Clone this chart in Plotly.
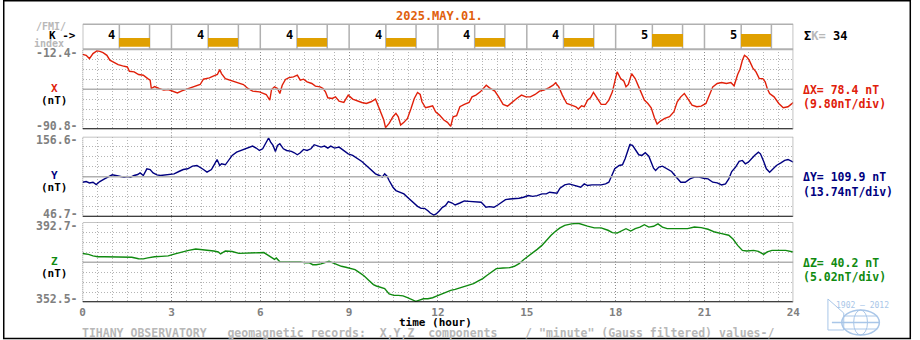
import plotly.graph_objects as go

W, H = 920, 340

# ---- data -------------------------------------------------------------
hour_ticks = list(range(0, 25, 3))
k_index = [4, 4, 4, 4, 4, 4, 5, 5]

x_hours = [0.00, 0.12, 0.23, 0.35, 0.48, 0.58, 0.69, 0.82, 0.92, 1.05,
           1.20, 1.35, 1.51, 1.58, 1.74, 1.89, 2.05, 2.20, 2.28, 2.32,
           2.43, 2.58, 2.74, 2.89, 3.05, 3.20, 3.35, 3.51, 3.66, 3.82,
           3.97, 4.08, 4.28, 4.43, 4.55, 4.63, 4.69, 4.82, 4.97, 5.20,
           5.43, 5.58, 5.74, 5.97, 6.12, 6.20, 6.32, 6.38, 6.48, 6.58,
           6.66, 6.74, 6.85, 6.97, 7.12, 7.25, 7.35, 7.46, 7.58, 7.74,
           7.86, 8.02, 8.12, 8.20, 8.28, 8.43, 8.54, 8.66, 8.82, 8.97,
           9.12, 9.28, 9.43, 9.58, 9.74, 9.89, 9.97, 10.08, 10.17, 10.23,
           10.35, 10.48, 10.58, 10.66, 10.74, 10.85, 10.97, 11.09, 11.20, 11.31,
           11.40, 11.46, 11.58, 11.71, 11.82, 11.92, 12.05, 12.20, 12.32, 12.43,
           12.51, 12.63, 12.74, 12.89, 13.05, 13.15, 13.28, 13.43, 13.63, 13.74,
           13.92, 14.05, 14.20, 14.35, 14.51, 14.66, 14.82, 14.97, 15.12, 15.28,
           15.43, 15.58, 15.74, 15.89, 15.97, 16.08, 16.20, 16.35, 16.51, 16.66,
           16.74, 16.85, 16.94, 17.05, 17.15, 17.25, 17.35, 17.51, 17.66, 17.77,
           17.89, 17.97, 18.05, 18.17, 18.28, 18.35, 18.43, 18.54, 18.66, 18.78,
           18.89, 18.97, 19.09, 19.20, 19.31, 19.40, 19.51, 19.66, 19.82, 19.97,
           20.08, 20.20, 20.32, 20.43, 20.58, 20.74, 20.89, 21.05, 21.15, 21.28,
           21.43, 21.58, 21.74, 21.89, 22.00, 22.05, 22.12, 22.20, 22.28, 22.35,
           22.43, 22.51, 22.63, 22.74, 22.85, 22.97, 23.05, 23.12, 23.20, 23.35,
           23.51, 23.66, 23.82, 23.92, 24.00]
x_nt = [-17.3, -18.3, -21.5, -16.6, -14.0, -14.4, -15.7, -18.3, -23.1, -25.4,
        -27.4, -28.7, -29.7, -33.9, -34.5, -37.1, -37.8, -41.1, -42.7, -50.8,
        -48.9, -50.8, -52.4, -51.8, -53.4, -55.1, -53.1, -51.5, -49.8, -48.9,
        -46.9, -41.7, -40.4, -38.4, -37.1, -32.3, -36.2, -41.1, -42.7, -45.0,
        -46.9, -50.8, -53.4, -54.1, -55.7, -56.7, -62.2, -51.8, -49.2, -50.8,
        -55.7, -47.6, -42.0, -40.1, -39.4, -37.8, -42.7, -41.7, -44.3, -45.9,
        -48.5, -49.2, -50.8, -54.1, -59.9, -60.6, -59.0, -63.2, -64.5, -57.3,
        -61.2, -63.2, -64.5, -65.5, -63.8, -61.2, -67.1, -73.6, -81.7, -89.2,
        -85.0, -78.5, -75.2, -78.5, -86.6, -84.0, -80.1, -70.4, -60.6, -54.7,
        -56.7, -63.8, -69.7, -68.7, -67.8, -73.6, -76.9, -81.7, -84.0, -87.9,
        -78.5, -77.5, -68.7, -66.4, -64.5, -59.0, -57.3, -54.1, -47.6, -50.2,
        -53.4, -59.0, -66.4, -68.1, -63.8, -60.6, -57.3, -59.0, -59.0, -56.7,
        -53.4, -52.4, -50.2, -47.6, -45.3, -49.2, -57.3, -65.5, -67.1, -68.7,
        -71.0, -67.8, -68.7, -62.2, -59.9, -54.7, -59.0, -66.4, -66.4, -62.2,
        -54.1, -42.7, -34.5, -41.1, -43.7, -49.2, -46.9, -36.2, -41.1, -49.2,
        -57.3, -62.2, -65.5, -69.7, -79.5, -85.7, -82.7, -80.1, -78.5, -73.6,
        -63.8, -59.0, -55.7, -60.6, -67.1, -68.7, -68.1, -65.5, -59.0, -49.2,
        -45.9, -45.0, -45.9, -45.0, -48.2, -42.7, -37.1, -31.9, -23.1, -18.3,
        -19.9, -23.1, -30.6, -34.5, -41.1, -41.1, -44.3, -50.8, -55.7, -59.0,
        -65.5, -69.7, -68.7, -66.4, -64.5]

y_hours = [0.00, 0.12, 0.23, 0.35, 0.46, 0.58, 0.74, 0.89, 1.00, 1.12,
           1.28, 1.40, 1.51, 1.62, 1.74, 1.86, 1.94, 2.05, 2.17, 2.28,
           2.38, 2.51, 2.63, 2.78, 2.94, 3.09, 3.25, 3.40, 3.55, 3.71,
           3.86, 3.97, 4.08, 4.20, 4.35, 4.46, 4.54, 4.63, 4.69, 4.82,
           4.94, 5.05, 5.20, 5.35, 5.51, 5.62, 5.74, 5.86, 5.97, 6.08,
           6.17, 6.28, 6.35, 6.43, 6.51, 6.58, 6.66, 6.78, 6.89, 7.05,
           7.15, 7.25, 7.35, 7.46, 7.58, 7.71, 7.82, 7.92, 8.05, 8.17,
           8.28, 8.38, 8.51, 8.66, 8.78, 8.97, 9.12, 9.28, 9.43, 9.58,
           9.74, 9.89, 10.02, 10.12, 10.20, 10.28, 10.35, 10.48, 10.58, 10.74,
           10.85, 10.97, 11.09, 11.20, 11.31, 11.43, 11.55, 11.66, 11.74, 11.86,
           11.94, 12.05, 12.15, 12.25, 12.35, 12.48, 12.58, 12.74, 12.89, 13.05,
           13.20, 13.35, 13.46, 13.55, 13.62, 13.74, 13.89, 14.02, 14.17, 14.28,
           14.43, 14.58, 14.74, 14.89, 15.05, 15.20, 15.35, 15.51, 15.66, 15.77,
           15.89, 16.02, 16.12, 16.28, 16.43, 16.58, 16.74, 16.82, 16.94, 17.05,
           17.20, 17.35, 17.51, 17.66, 17.77, 17.86, 17.97, 18.12, 18.23, 18.32,
           18.40, 18.48, 18.57, 18.66, 18.78, 18.89, 19.00, 19.12, 19.20, 19.28,
           19.35, 19.46, 19.58, 19.74, 19.89, 20.05, 20.20, 20.35, 20.51, 20.66,
           20.82, 20.97, 21.12, 21.28, 21.43, 21.58, 21.71, 21.82, 21.92, 22.05,
           22.17, 22.28, 22.38, 22.48, 22.58, 22.69, 22.82, 22.89, 23.00, 23.09,
           23.20, 23.31, 23.43, 23.58, 23.71, 23.82, 23.92, 24.00]
y_nt = [94.1, 95.0, 93.1, 94.1, 90.8, 95.0, 98.7, 101.9, 104.2, 103.3,
        102.3, 101.0, 101.9, 101.0, 103.3, 104.6, 106.9, 103.3, 112.5, 111.5,
        106.9, 104.2, 103.3, 104.2, 104.6, 105.6, 108.8, 111.5, 112.5, 116.1,
        117.1, 114.8, 111.5, 107.9, 111.5, 119.4, 125.3, 117.1, 119.4, 118.0,
        124.0, 130.9, 135.4, 137.7, 140.0, 142.3, 143.7, 141.0, 137.7, 140.0,
        146.9, 154.8, 149.2, 144.6, 136.4, 144.6, 146.9, 140.0, 137.7, 136.4,
        134.5, 131.8, 134.5, 139.1, 137.7, 140.0, 145.6, 143.7, 142.3, 143.7,
        141.0, 143.7, 141.0, 142.3, 139.1, 133.1, 130.9, 127.2, 122.6, 117.1,
        111.5, 105.6, 103.3, 101.0, 105.6, 102.3, 96.4, 87.2, 82.6, 80.3,
        78.0, 73.4, 68.8, 65.5, 60.9, 58.2, 58.2, 55.0, 51.7, 49.0,
        50.4, 55.0, 59.6, 61.9, 67.4, 65.5, 62.8, 65.5, 68.3, 67.8,
        67.4, 67.8, 66.5, 62.8, 59.6, 60.5, 59.6, 62.8, 66.5, 70.1,
        71.1, 71.1, 72.0, 73.4, 75.7, 74.7, 75.7, 78.0, 78.0, 80.3,
        79.3, 78.9, 85.8, 90.4, 91.8, 90.4, 88.5, 87.2, 91.8, 89.5,
        90.4, 90.4, 90.4, 91.8, 94.1, 102.3, 112.5, 117.1, 118.0, 126.3,
        136.4, 145.6, 144.6, 139.1, 131.8, 130.9, 134.5, 129.9, 121.6, 113.4,
        110.2, 114.8, 116.1, 112.5, 108.8, 101.0, 94.1, 94.1, 98.7, 101.0,
        101.0, 99.6, 98.7, 94.1, 93.1, 90.4, 91.8, 98.7, 108.8, 114.8,
        122.6, 124.0, 119.4, 121.6, 126.3, 130.9, 135.4, 133.1, 122.6, 112.5,
        107.9, 112.5, 117.1, 120.7, 124.0, 125.3, 122.6, 121.6]

z_hours = [0.00, 0.20, 0.35, 0.51, 0.74, 0.97, 1.20, 1.43, 1.66, 1.89,
           2.05, 2.20, 2.43, 2.66, 2.89, 3.12, 3.35, 3.58, 3.82, 3.97,
           4.20, 4.43, 4.58, 4.66, 4.82, 5.05, 5.28, 5.51, 5.74, 5.97,
           6.12, 6.23, 6.35, 6.48, 6.54, 6.66, 6.89, 7.12, 7.35, 7.51,
           7.66, 7.77, 7.89, 8.05, 8.20, 8.32, 8.43, 8.58, 8.74, 8.89,
           9.05, 9.20, 9.35, 9.51, 9.66, 9.82, 9.92, 10.05, 10.20, 10.35,
           10.51, 10.66, 10.82, 10.97, 11.12, 11.25, 11.35, 11.51, 11.66, 11.82,
           11.97, 12.12, 12.28, 12.43, 12.58, 12.74, 12.89, 13.05, 13.20, 13.35,
           13.51, 13.66, 13.82, 13.97, 14.20, 14.43, 14.58, 14.74, 14.89, 15.05,
           15.20, 15.35, 15.51, 15.66, 15.82, 15.97, 16.12, 16.28, 16.51, 16.74,
           16.89, 17.05, 17.28, 17.51, 17.74, 17.89, 18.05, 18.20, 18.35, 18.51,
           18.66, 18.82, 18.97, 19.12, 19.28, 19.43, 19.58, 19.74, 19.97, 20.20,
           20.43, 20.66, 20.89, 21.12, 21.35, 21.58, 21.82, 21.97, 22.12, 22.28,
           22.43, 22.66, 22.82, 23.00, 23.12, 23.28, 23.51, 23.74, 24.00]
z_nt = [377.0, 376.6, 375.8, 375.4, 375.4, 375.3, 375.4, 375.3, 375.1, 374.4,
        374.3, 374.8, 375.4, 375.6, 375.8, 376.8, 377.8, 378.6, 379.3, 379.1,
        378.6, 378.3, 377.8, 376.8, 378.3, 378.0, 377.1, 377.3, 377.5, 377.5,
        377.5, 376.5, 375.3, 374.1, 374.8, 372.9, 372.8, 372.8, 372.8, 372.3,
        372.3, 371.4, 371.4, 371.8, 372.4, 373.1, 372.4, 371.4, 370.6, 370.1,
        369.4, 368.9, 367.4, 365.7, 363.6, 361.4, 360.7, 360.2, 359.4, 356.7,
        356.0, 356.0, 355.7, 354.8, 353.8, 353.0, 353.5, 354.3, 354.3, 354.8,
        355.7, 356.7, 357.7, 358.5, 359.0, 359.7, 360.7, 361.1, 361.9, 363.1,
        364.4, 366.1, 367.7, 369.4, 369.7, 369.9, 370.6, 371.9, 373.9, 375.6,
        377.5, 379.1, 381.1, 383.7, 386.2, 388.2, 389.9, 391.2, 391.9, 392.2,
        391.7, 390.8, 389.9, 389.9, 388.7, 387.5, 387.3, 388.5, 389.5, 388.3,
        389.5, 390.3, 391.5, 390.3, 390.7, 391.9, 390.3, 389.5, 389.5, 389.2,
        389.5, 390.3, 390.0, 389.2, 387.8, 387.0, 386.2, 384.2, 381.1, 378.6,
        378.3, 378.6, 378.1, 376.6, 377.8, 378.6, 378.6, 378.6, 377.8]

# scale limits (bottom, top) of each component panel, nT
x_limits = (-90.8, -12.4)
y_limits = (46.7, 156.6)
z_limits = (352.5, 392.7)

# ---- styling -----------------------------------------------------------
RED = "#e0200a"
NAVY = "#000080"
GREEN = "#108a10"
ORANGE = "#e0a000"
TITLE_ORANGE = "#e0600c"
FRAME = "#b0b0b0"
GRID = "#b4b4b4"
GRID_3H = "#8c8c8c"
NUM_GRAY = "#808080"
FAINT = "#b8b8b8"
LOGO = "#a9c6e8"
MONO = "DejaVu Sans Mono"
DOT = "1px,2px"


def fx(px):
    return px / W


def fy(px):
    return 1 - px / H


LEFT, RIGHT = 80.5, 799.0
K_TOP, K_BOT, K_BAR_FLOOR = 24.3, 49.3, 46.7
K_PX_PER_UNIT = 4.0
K_FLOOR_VALUE = 1.75

panels = [
    ("X", RED, x_hours, x_nt, x_limits, 49.3, 129.3),
    ("Y", NAVY, y_hours, y_nt, y_limits, 136.7, 216.7),
    ("Z", GREEN, z_hours, z_nt, z_limits, 222.3, 302.3),
]


def font(size=11, color="black"):
    return dict(family=MONO, size=size, color=color, weight="bold")


fig = go.Figure()
shapes = []
annotations = []

# ---- K-index strip ----------------------------------------------------
bar_width = 1.02
k_centers = [3 * i + 1.75 for i in range(len(k_index))]
fig.add_trace(go.Bar(x=k_centers, y=k_index, width=bar_width,
                     marker=dict(color=ORANGE, line=dict(width=0)),
                     xaxis="x", yaxis="y", hoverinfo="skip"))

layout_axes = dict(
    xaxis=dict(domain=[fx(LEFT), fx(RIGHT)], range=[0, 24], visible=False,
               fixedrange=True),
    yaxis=dict(domain=[fy(K_BAR_FLOOR), fy(K_TOP)],
               range=[K_FLOOR_VALUE,
                      K_FLOOR_VALUE + (K_BAR_FLOOR - K_TOP) / K_PX_PER_UNIT],
               visible=False, fixedrange=True),
)

for y_px, w in ((K_TOP, 1.5), (K_BOT, 2)):
    shapes.append(dict(type="line", xref="x", yref="paper", x0=0, x1=24,
                       y0=fy(y_px), y1=fy(y_px),
                       line=dict(color=FRAME, width=w), layer="below"))
edges = [3 * i for i in range(9)]
for c in k_centers:
    edges += [c - bar_width / 2, c + bar_width / 2]
for e in edges:
    shapes.append(dict(type="line", xref="x", yref="paper", x0=e, x1=e,
                       y0=fy(K_BOT), y1=fy(K_TOP),
                       line=dict(color=FRAME, width=1.5), layer="below"))
for i, k in enumerate(k_index):
    annotations.append(dict(x=3 * i + 1.13, y=fy(35.3), xref="x", yref="paper",
                            text=str(k), showarrow=False, xanchor="right",
                            yanchor="middle", font=font(12)))

# ---- component panels --------------------------------------------------
for n, (name, color, hours, values, (lo, hi), top_px, bot_px) in enumerate(panels, start=2):
    xa, ya = f"x{n}", f"y{n}"
    div = (hi - lo) / 8
    fig.add_trace(go.Scatter(x=hours, y=values, mode="lines",
                             line=dict(color=color, width=1.4),
                             xaxis=xa, yaxis=ya, hoverinfo="skip"))
    is_last = n == len(panels) + 1
    layout_axes[f"xaxis{n}"] = dict(
        domain=[fx(LEFT), fx(RIGHT)], range=[0, 24], anchor=ya,
        tickmode="array", tickvals=hour_ticks,
        showticklabels=is_last, ticks="",
        tickfont=font(11, NUM_GRAY), ticklabelstandoff=2,
        showgrid=True, gridcolor=GRID_3H, griddash=DOT, gridwidth=1,
        minor=dict(tickmode="linear", tick0=0, dtick=0.5, showgrid=True,
                   gridcolor=GRID, griddash=DOT, gridwidth=1),
        zeroline=False, showline=False, fixedrange=True)
    layout_axes[f"yaxis{n}"] = dict(
        domain=[fy(bot_px), fy(top_px)], range=[lo, hi], anchor=xa,
        tickmode="linear", tick0=lo, dtick=div, showticklabels=False,
        showgrid=True, gridcolor=GRID, griddash=DOT, gridwidth=1,
        zeroline=False, showline=False, fixedrange=True)

    # panel frame: top and centre lines grey, base line black
    for yv, c, w in ((hi, FRAME, 1.5), ((hi + lo) / 2, FRAME, 1.5), (lo, "black", 2)):
        shapes.append(dict(type="line", xref=xa, yref=ya, x0=0, x1=24,
                           y0=yv, y1=yv, line=dict(color=c, width=w)))
    shapes.append(dict(type="line", xref=xa, yref=ya, x0=0, x1=0, y0=lo, y1=hi,
                       line=dict(color="black", width=1, dash="1px,1px")))
    shapes.append(dict(type="line", xref=xa, yref=ya, x0=24, x1=24, y0=lo, y1=hi,
                       line=dict(color=FRAME, width=1.5)))

    # scale end values on the left
    annotations.append(dict(x=fx(77), y=hi, xref="paper", yref=ya, yshift=-3.5,
                            text=f"{hi:.1f}-", showarrow=False, xanchor="right",
                            yanchor="middle", font=font(11.5, NUM_GRAY)))
    annotations.append(dict(x=fx(77), y=lo, xref="paper", yref=ya, yshift=3,
                            text=f"{lo:.1f}-", showarrow=False, xanchor="right",
                            yanchor="middle", font=font(11.5, NUM_GRAY)))
    # component name
    mid_px = (top_px + bot_px) / 2
    annotations.append(dict(x=fx(52.5), y=fy(mid_px - 1), xref="paper", yref="paper",
                            text=name, showarrow=False, xanchor="center",
                            yanchor="middle", font=font(11, color)))
    annotations.append(dict(x=fx(52.5), y=fy(mid_px + 10.8), xref="paper", yref="paper",
                            text="(nT)", showarrow=False, xanchor="center",
                            yanchor="middle", font=font(11)))
    # range on the right
    span = hi - lo
    annotations.append(dict(x=fx(808), y=fy(mid_px + 0.5), xref="paper", yref="paper",
                            text=f"\u0394{name}= {span:.1f} nT", showarrow=False,
                            xanchor="left", yanchor="middle", font=font(11.5, color)))
    annotations.append(dict(x=fx(808), y=fy(mid_px + 15), xref="paper", yref="paper",
                            text=f"({span / 8:.2f}nT/div)", showarrow=False,
                            xanchor="left", yanchor="middle", font=font(11.5, color)))

# 3-hour guide lines continue across the gaps between panels
for t in hour_ticks[1:-1]:
    for y0, y1 in ((129.3, 136.7), (216.7, 222.3)):
        shapes.append(dict(type="line", xref="x2", yref="paper", x0=t, x1=t,
                           y0=fy(y0), y1=fy(y1),
                           line=dict(color=GRID_3H, width=1, dash=DOT), layer="below"))

# ---- headings and captions ---------------------------------------------
annotations += [
    dict(x=fx(441), y=fy(16), text="2025.MAY.01.", font=font(12, TITLE_ORANGE),
         xanchor="center"),
    dict(x=fx(49), y=fy(26.3), text="/FMI/", font=font(10, FAINT), xanchor="center"),
    dict(x=fx(75), y=fy(35.3), text="K ->", font=font(11), xanchor="right"),
    dict(x=fx(47), y=fy(43.3), text="index", font=font(10, FAINT), xanchor="center"),
    dict(x=fx(809), y=fy(36.5),
         text=("<span style='color:black'>\u03a3</span>"
               f"<span style='color:{FAINT}'>K=</span> {sum(k_index)}"),
         font=font(12), xanchor="left"),
    dict(x=fx(437), y=fy(322.6), text="time (hour)", font=font(11), xanchor="center"),
    dict(x=fx(79), y=fy(332.6),
         text=('TIHANY OBSERVATORY   geomagnetic records:  X,Y,Z  components    '
               '/ "minute" (Gauss filtered) values-/'),
         font=font(11.5, FAINT), xanchor="left"),
    dict(x=fx(869), y=fy(305), text="1902 \u2014 2012", font=dict(family=MONO, size=8, color=LOGO),
         xanchor="center"),
]
for a in annotations:
    a.setdefault("xref", "paper")
    a.setdefault("yref", "paper")
    a.setdefault("showarrow", False)
    a.setdefault("yanchor", "middle")
    a.setdefault("borderpad", 0)

# ---- observatory emblem ------------------------------------------------
shapes += [
    dict(type="path", xref="paper", yref="paper",
         path=(f"M {fx(834)},{fy(299)} L {fx(850)},{fy(313)} L {fx(850)},{fy(330)} "
               f"L {fx(834)},{fy(330)} Z"),
         line=dict(color=LOGO, width=1)),
    dict(type="circle", xref="paper", yref="paper", x0=fx(848), x1=fx(886),
         y0=fy(335), y1=fy(310), line=dict(color=LOGO, width=1.5)),
    dict(type="circle", xref="paper", yref="paper", x0=fx(860), x1=fx(874),
         y0=fy(335), y1=fy(310), line=dict(color=LOGO, width=1)),
    dict(type="line", xref="paper", yref="paper", x0=fx(838), x1=fx(886),
         y0=fy(322.5), y1=fy(322.5), line=dict(color=LOGO, width=1.5)),
    dict(type="line", xref="paper", yref="paper", x0=fx(850), x1=fx(884),
         y0=fy(316), y1=fy(316), line=dict(color=LOGO, width=1)),
    dict(type="line", xref="paper", yref="paper", x0=fx(850), x1=fx(884),
         y0=fy(329), y1=fy(329), line=dict(color=LOGO, width=1)),
]

# outer frame
shapes.append(dict(type="rect", xref="paper", yref="paper",
                   x0=fx(0.75), x1=fx(917.25), y0=fy(338.5), y1=fy(0.75),
                   line=dict(color="black", width=1.5)))

fig.update_layout(
    width=W, height=H, margin=dict(l=0, r=0, t=0, b=0),
    paper_bgcolor="white", plot_bgcolor="white",
    showlegend=False, bargap=0,
    shapes=shapes, annotations=annotations,
    **layout_axes,
)

fig.write_html("out.html", config={"displayModeBar": False, "staticPlot": True})
